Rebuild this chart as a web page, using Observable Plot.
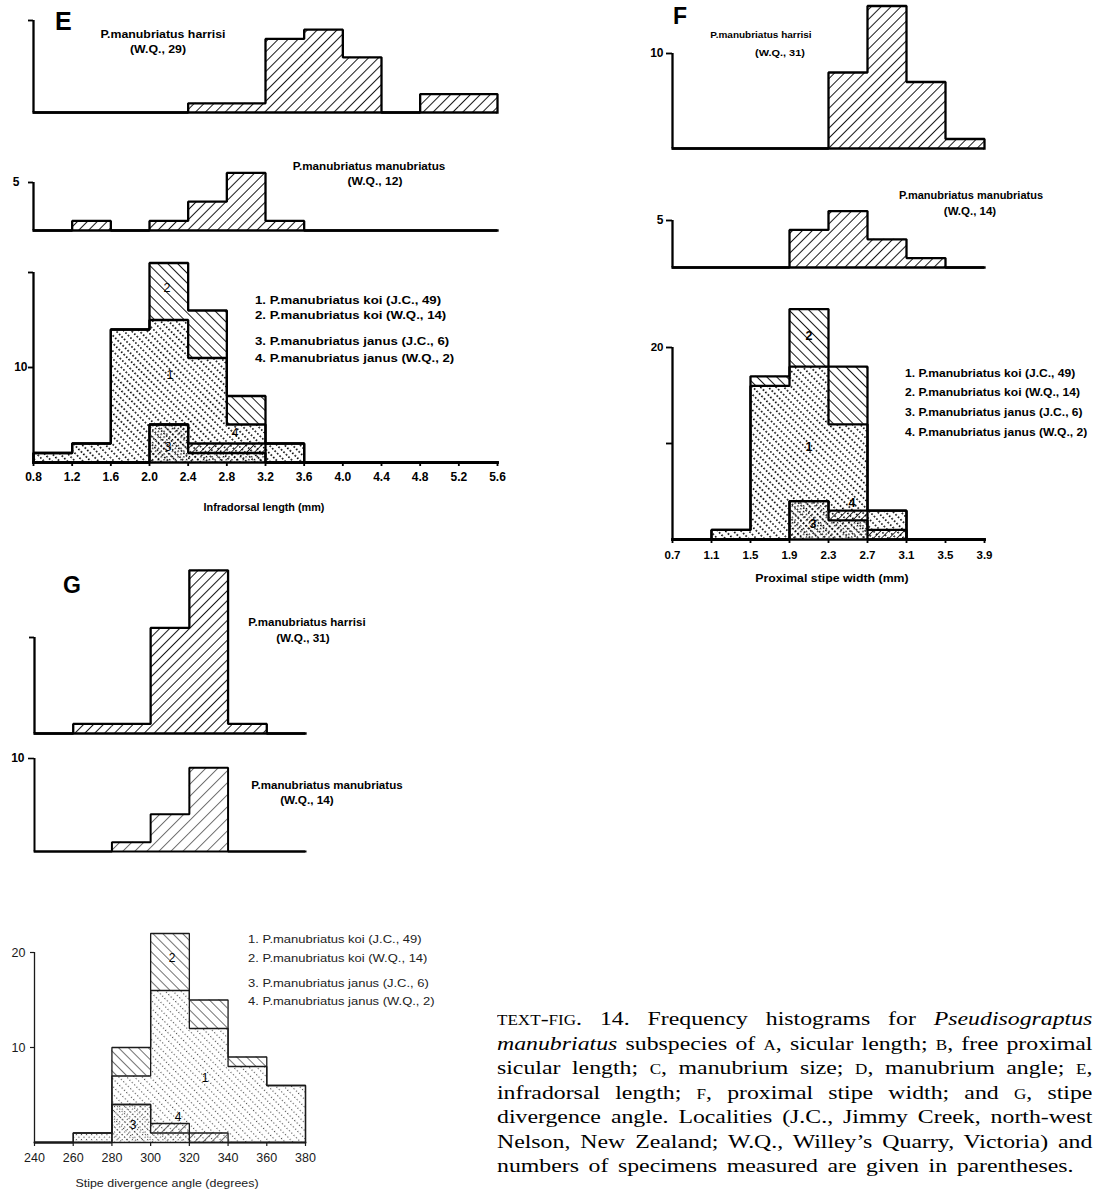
<!DOCTYPE html>
<html><head><meta charset="utf-8">
<script src="https://cdn.jsdelivr.net/npm/d3@7"></script>
<script src="https://cdn.jsdelivr.net/npm/@observablehq/plot@0.6"></script>
<style>
body{margin:0;background:#fff;}
#fig{position:relative;width:1102px;height:1191px;overflow:hidden;background:#fff;}
#fig svg.plot-panel{position:absolute;overflow:visible;}
.cap{position:absolute;left:497px;top:1007px;width:488px;transform:scaleX(1.22);transform-origin:0 0;font-family:"Liberation Serif","Times New Roman",serif;font-size:19.5px;line-height:24.5px;color:#000;}
.cap div{text-align:justify;text-align-last:justify;}
.cap div.last{text-align:left;text-align-last:left;word-spacing:3px;}
.sc{font-variant:small-caps;}
</style></head>
<body>
<svg width="0" height="0" style="position:absolute">
<defs>
  <pattern id="hF" patternUnits="userSpaceOnUse" width="7" height="7" patternTransform="rotate(45)">
    <line x1="0" y1="0" x2="0" y2="7" stroke="#000" stroke-width="1.8"/></pattern>
  <pattern id="hFthin" patternUnits="userSpaceOnUse" width="8.5" height="8.5" patternTransform="rotate(45)">
    <line x1="0" y1="0" x2="0" y2="8.5" stroke="#000" stroke-width="1.1"/></pattern>
  <pattern id="s1" patternUnits="userSpaceOnUse" width="5.5" height="3.5" patternTransform="rotate(-45)">
    <rect x="0" y="0" width="1.6" height="1.6" fill="#000"/></pattern>
  <pattern id="s2" patternUnits="userSpaceOnUse" width="7" height="7" patternTransform="rotate(-45)">
    <line x1="0" y1="0" x2="0" y2="7" stroke="#000" stroke-width="1.8"/></pattern>
  <pattern id="s3" patternUnits="userSpaceOnUse" width="4" height="4" patternTransform="rotate(45)">
    <rect x="0" y="0" width="1.4" height="1.4" fill="#000"/></pattern>
  <pattern id="s4" patternUnits="userSpaceOnUse" width="5.5" height="5.5" patternTransform="rotate(45)">
    <line x1="0" y1="0" x2="0" y2="5.5" stroke="#000" stroke-width="1.6"/></pattern>
  <pattern id="g1" patternUnits="userSpaceOnUse" width="5.5" height="3.3" patternTransform="rotate(-45)">
    <rect x="0" y="0" width="1.1" height="1.1" fill="#444"/></pattern>
  <pattern id="g2" patternUnits="userSpaceOnUse" width="7" height="7" patternTransform="rotate(-45)">
    <line x1="0" y1="0" x2="0" y2="7" stroke="#111" stroke-width="1.2"/></pattern>
  <pattern id="g3" patternUnits="userSpaceOnUse" width="3.6" height="3.6" patternTransform="rotate(45)">
    <rect x="0" y="0" width="1.1" height="1.1" fill="#444"/></pattern>
  <pattern id="g4" patternUnits="userSpaceOnUse" width="6" height="6" patternTransform="rotate(45)">
    <line x1="0" y1="0" x2="0" y2="6" stroke="#111" stroke-width="1.2"/></pattern>
</defs>
</svg>
<div id="fig"></div>
<script>
// ---------- DATA (frequencies) ----------
// E: infradorsal length (mm), bins of 0.4 mm
const E_edges       = [0.8,1.2,1.6,2.0,2.4,2.8,3.2,3.6,4.0,4.4,4.8,5.2,5.6];
const E_harrisi     = [0,0,0,0,1,1,8,9,6,0,2,2];
const E_manubriatus = [0,1,0,1,3,6,1,0,0,0,0,0];
const E_koiJC       = [1,2,14,15,11,4,2,0,0,0,0,0];
const E_koiWQ       = [0,0,0,6,5,3,0,0,0,0,0,0];
const E_janusJC     = [0,0,0,4,1,1,0,0,0,0,0,0];
const E_janusWQ     = [0,0,0,0,1,1,0,0,0,0,0,0];
// F: proximal stipe width (mm), bins of 0.4 mm
const F_edges       = [0.7,1.1,1.5,1.9,2.3,2.7,3.1,3.5,3.9];
const F_harrisi     = [0,0,0,0,8,15,7,1];
const F_manubriatus = [0,0,0,4,6,3,1,0];
const F_koiJC       = [0,1,16,18,12,3,0,0];
const F_koiWQ       = [0,0,1,6,6,0,0,0];
const F_janusJC     = [0,0,0,4,2,0,0,0];
const F_janusWQ     = [0,0,0,0,1,1,0,0];
// G: stipe divergence angle (degrees), bins of 20 degrees
const G_edges       = [240,260,280,300,320,340,360,380];
const G_harrisi     = [0,1,1,11,17,1,0];
const G_manubriatus = [0,0,1,4,9,0,0];
const G_koiJC       = [0,0,7,16,12,8,6];
const G_koiWQ       = [0,0,3,6,3,1,0];
const G_janusJC     = [0,1,4,1,0,0,0];
const G_janusWQ     = [0,0,0,1,1,0,0];

const legendLabels = [
  "1. P.manubriatus koi (J.C., 49)",
  "2. P.manubriatus koi (W.Q., 14)",
  "3. P.manubriatus janus (J.C., 6)",
  "4. P.manubriatus janus (W.Q., 2)"
];

// ---------- helpers ----------
const fig = document.getElementById("fig");
const SANS = '"Liberation Sans", Arial, Helvetica, sans-serif';
const add = (a, b) => a.map((v, i) => v + b[i]);
const zeros = n => new Array(n).fill(0);
function rows(edges, lo, hi) {
  return edges.slice(0, -1).map((e, i) => ({x1: e, x2: edges[i + 1], y1: lo[i], y2: hi[i]}))
    .filter(d => d.y2 > d.y1);
}
function stepPts(edges, counts) {
  const n = counts.length;
  const pts = [{x: edges[0], y: 0}];
  counts.forEach((c, i) => pts.push({x: edges[i], y: c}));
  pts.push({x: edges[n], y: counts[n - 1]});
  pts.push({x: edges[n], y: 0});
  return pts;
}
function rect(data, fill) {
  return Plot.rect(data, {x1: "x1", x2: "x2", y1: "y1", y2: "y2", fill: `url(#${fill})`, inset: 0});
}
function outline(edges, counts, sw, color) {
  return Plot.line(stepPts(edges, counts), {x: "x", y: "y", curve: "step-after",
    stroke: color, strokeWidth: sw, strokeLinejoin: "miter", strokeLinecap: "square"});
}

function panel(c) {
  const sw = c.sw, color = c.color || "#000";
  const ml = c.xPx[0] - c.left, mr = c.left + c.width - c.xPx[1];
  const mt = c.yPx[1] - c.top, mb = c.top + c.height - c.yPx[0];
  const marks = [];
  const edges = c.edges;
  if (c.single) {
    marks.push(rect(rows(edges, zeros(c.single.length), c.single), c.pat));
    marks.push(outline(edges, c.single, sw, color));
  } else {
    const [a, b, d, e] = c.stack, p = c.pats;
    const ab = add(a, b), de = add(d, e);
    marks.push(rect(rows(edges, zeros(a.length), a), p[0]));
    marks.push(rect(rows(edges, a, ab), p[1]));
    marks.push(rect(rows(edges, zeros(d.length), d), p[2]));
    marks.push(rect(rows(edges, d, de), p[3]));
    marks.push(outline(edges, a, sw, color));
    marks.push(outline(edges, ab, sw, color));
    marks.push(outline(edges, d, sw, color));
    marks.push(outline(edges, de, sw, color));
  }
  marks.push(Plot.ruleY([0], {stroke: color, strokeWidth: sw}));
  marks.push(Plot.ruleX([c.xDom[0]], {y1: 0, y2: c.axisTop, stroke: color, strokeWidth: sw}));
  const svg = Plot.plot({
    width: c.width, height: c.height,
    marginLeft: ml, marginRight: mr, marginTop: mt, marginBottom: mb,
    x: {domain: c.xDom, axis: c.xTicks ? "bottom" : null, ticks: c.xTicks, tickFormat: c.xFmt,
        tickSize: 4, tickPadding: c.xPad ?? 7, label: null},
    y: {domain: c.yDom, axis: "left", ticks: c.yTicks, tickFormat: c.yFmt,
        tickSize: c.yTickSize ?? 5, tickPadding: c.yPad ?? 4, label: null},
    style: {background: "transparent", overflow: "visible", fontFamily: SANS,
            fontSize: (c.fs || 12) + "px", fontWeight: c.fw || "bold", color: color},
    marks
  });
  svg.classList.add("plot-panel");
  svg.style.left = c.left + "px";
  svg.style.top = c.top + "px";
  d3.select(svg).selectAll('g[aria-label$="axis"] path, g[aria-label$="axis"] line, g[aria-label$="tick"] path')
    .attr("stroke-width", Math.max(1.2, sw * 0.8));
  fig.appendChild(svg);
}

function txt(s, x, y, o = {}) {
  const d = document.createElement("div");
  d.innerHTML = s;
  const start = o.anchor === "start";
  Object.assign(d.style, {
    position: "absolute", left: x + "px", top: y + "px", whiteSpace: "nowrap",
    fontFamily: o.font || SANS, fontSize: (o.size || 11) + "px", fontWeight: o.weight || "bold",
    lineHeight: "1", color: o.color || "#000",
    transformOrigin: start ? "0 50%" : "50% 50%",
    transform: (start ? "translateY(-50%)" : "translate(-50%,-50%)") + ` scaleX(${o.sx || 1})`
  });
  fig.appendChild(d);
}

// ---------- PANEL E ----------
panel({left: 0, top: 0, width: 520, height: 125, xDom: [0.8, 5.6], xPx: [33, 497],
  yDom: [0, 10], yPx: [112, 20], axisTop: 10, yTicks: [10], yFmt: () => "",
  edges: E_edges, single: E_harrisi, pat: "hF", sw: 2.3});
panel({left: 0, top: 130, width: 520, height: 110, xDom: [0.8, 5.6], xPx: [33, 497],
  yDom: [0, 5], yPx: [230, 182], axisTop: 5, yTicks: [5], yFmt: d => String(d), yPad: 9,
  edges: E_edges, single: E_manubriatus, pat: "hF", sw: 2.3});
panel({left: 0, top: 255, width: 520, height: 245, xDom: [0.8, 5.6], xPx: [33, 497],
  yDom: [0, 20], yPx: [462, 272], axisTop: 20, yTicks: [10, 20], yFmt: d => d === 10 ? "10" : "", yPad: 1,
  xTicks: E_edges, xFmt: d3.format(".1f"), xPad: 6,
  edges: E_edges, stack: [E_koiJC, E_koiWQ, E_janusJC, E_janusWQ], pats: ["s1", "s2", "s3", "s4"], sw: 2.3});

txt("E", 55, 21, {anchor: "start", size: 25});
txt("P.manubriatus harrisi", 163, 34, {sx: 1.12});
txt("(W.Q., 29)", 158, 49, {sx: 1.12});
txt("P.manubriatus manubriatus", 369, 166, {sx: 1.06});
txt("(W.Q., 12)", 375, 181, {sx: 1.1});
legendLabels.forEach((l, i) => txt(l, 255, [300, 315, 341, 358][i], {anchor: "start", sx: 1.2}));
txt("2", 167, 288, {weight: "normal", size: 12.5});
txt("1", 170, 375, {weight: "normal", size: 12.5});
txt("3", 168, 447, {weight: "normal", size: 12.5});
txt("4", 235, 433, {weight: "normal", size: 12.5});
txt("Infradorsal length (mm)", 264, 507, {size: 10.5, sx: 1.03});

// ---------- PANEL F ----------
panel({left: 600, top: 0, width: 420, height: 160, xDom: [0.7, 3.9], xPx: [672, 984],
  yDom: [0, 10], yPx: [148, 53], axisTop: 10, yTicks: [10], yFmt: d => String(d), yPad: 3, yTickSize: 6,
  edges: F_edges, single: F_harrisi, pat: "hF", sw: 2.3});
panel({left: 600, top: 165, width: 420, height: 110, xDom: [0.7, 3.9], xPx: [672, 984],
  yDom: [0, 5], yPx: [267, 220], axisTop: 5, yTicks: [5], yFmt: d => String(d), yPad: 3, yTickSize: 6,
  edges: F_edges, single: F_manubriatus, pat: "hF", sw: 2.3});
panel({left: 600, top: 290, width: 420, height: 285, xDom: [0.7, 3.9], xPx: [672, 984],
  yDom: [0, 20], yPx: [539, 347], axisTop: 20, yTicks: [10, 20], yFmt: d => d === 20 ? "20" : "", yPad: 3, yTickSize: 6,
  xTicks: F_edges, xFmt: d3.format(".1f"), xPad: 7, fs: 11.5,
  edges: F_edges, stack: [F_koiJC, F_koiWQ, F_janusJC, F_janusWQ], pats: ["s1", "s2", "s3", "s4"], sw: 2.3});

txt("F", 673, 16, {anchor: "start", size: 23});
txt("P.manubriatus harrisi", 761, 35, {size: 9.5, sx: 1.05});
txt("(W.Q., 31)", 780, 53, {size: 9.5, sx: 1.15});
txt("P.manubriatus manubriatus", 971, 196, {size: 10, sx: 1.1});
txt("(W.Q., 14)", 970, 212, {size: 10, sx: 1.15});
legendLabels.forEach((l, i) => txt(l, 905, [373, 392, 412, 432][i], {anchor: "start", size: 10.5, sx: 1.15}));
txt("2", 809, 336, {weight: "bold", size: 12.5});
txt("1", 809, 447, {weight: "bold", size: 12.5});
txt("3", 813, 524, {weight: "bold", size: 12.5});
txt("4", 852, 503, {weight: "bold", size: 12.5});
txt("Proximal stipe width (mm)", 832, 578, {size: 11, sx: 1.12});

// ---------- PANEL G ----------
panel({left: 0, top: 550, width: 440, height: 195, xDom: [240, 380], xPx: [34, 305],
  yDom: [0, 10], yPx: [733, 637], axisTop: 10, yTicks: [10], yFmt: () => "",
  edges: G_edges, single: G_harrisi, pat: "hF", sw: 2.3});
panel({left: 0, top: 745, width: 440, height: 115, xDom: [240, 380], xPx: [34, 305],
  yDom: [0, 10], yPx: [851, 758], axisTop: 10, yTicks: [10], yFmt: d => String(d), yPad: 4, yTickSize: 6,
  edges: G_edges, single: G_manubriatus, pat: "hFthin", sw: 2});
panel({left: 0, top: 920, width: 440, height: 255, xDom: [240, 380], xPx: [34, 305],
  yDom: [0, 20], yPx: [1142, 952], axisTop: 20, yTicks: [10, 20], yFmt: d => String(d), yPad: 5, yTickSize: 4,
  xTicks: G_edges, xFmt: d => String(d), xPad: 7, fw: "normal", fs: 12.5, color: "#1a1a1a",
  edges: G_edges, stack: [G_koiJC, G_koiWQ, G_janusJC, G_janusWQ], pats: ["g1", "g2", "g3", "g4"], sw: 1.3});

txt("G", 63, 585, {anchor: "start", size: 23});
txt("P.manubriatus harrisi", 307, 622, {size: 10.5, sx: 1.1});
txt("(W.Q., 31)", 303, 638, {size: 10.5, sx: 1.12});
txt("P.manubriatus manubriatus", 327, 785, {size: 10.5, sx: 1.1});
txt("(W.Q., 14)", 307, 800, {size: 10.5, sx: 1.12});
legendLabels.forEach((l, i) => txt(l, 248, [939, 958, 983, 1001][i], {anchor: "start", weight: "normal", size: 11, sx: 1.18, color: "#222"}));
txt("2", 172, 958, {weight: "normal", size: 12});
txt("1", 205, 1078, {weight: "normal", size: 12});
txt("3", 133, 1125, {weight: "normal", size: 12});
txt("4", 178, 1117, {weight: "normal", size: 12});
txt("Stipe divergence angle (degrees)", 167, 1183, {weight: "normal", size: 11, sx: 1.13, color: "#222"});

// ---------- CAPTION ----------
const cap = document.createElement("div");
cap.className = "cap";
cap.innerHTML = [
  '<div><span class="sc">text-fig</span>. 14. Frequency histograms for <i>Pseudisograptus</i></div>',
  '<div><i>manubriatus</i> subspecies of <span class="sc">a</span>, sicular length; <span class="sc">b</span>, free proximal</div>',
  '<div>sicular length; <span class="sc">c</span>, manubrium size; <span class="sc">d</span>, manubrium angle; <span class="sc">e</span>,</div>',
  '<div>infradorsal length; <span class="sc">f</span>, proximal stipe width; and <span class="sc">g</span>, stipe</div>',
  '<div>divergence angle. Localities (J.C., Jimmy Creek, north-west</div>',
  '<div>Nelson, New Zealand; W.Q., Willey\u2019s Quarry, Victoria) and</div>',
  '<div class="last">numbers of specimens measured are given in parentheses.</div>'
].join("");
fig.appendChild(cap);
</script>
</body></html>
